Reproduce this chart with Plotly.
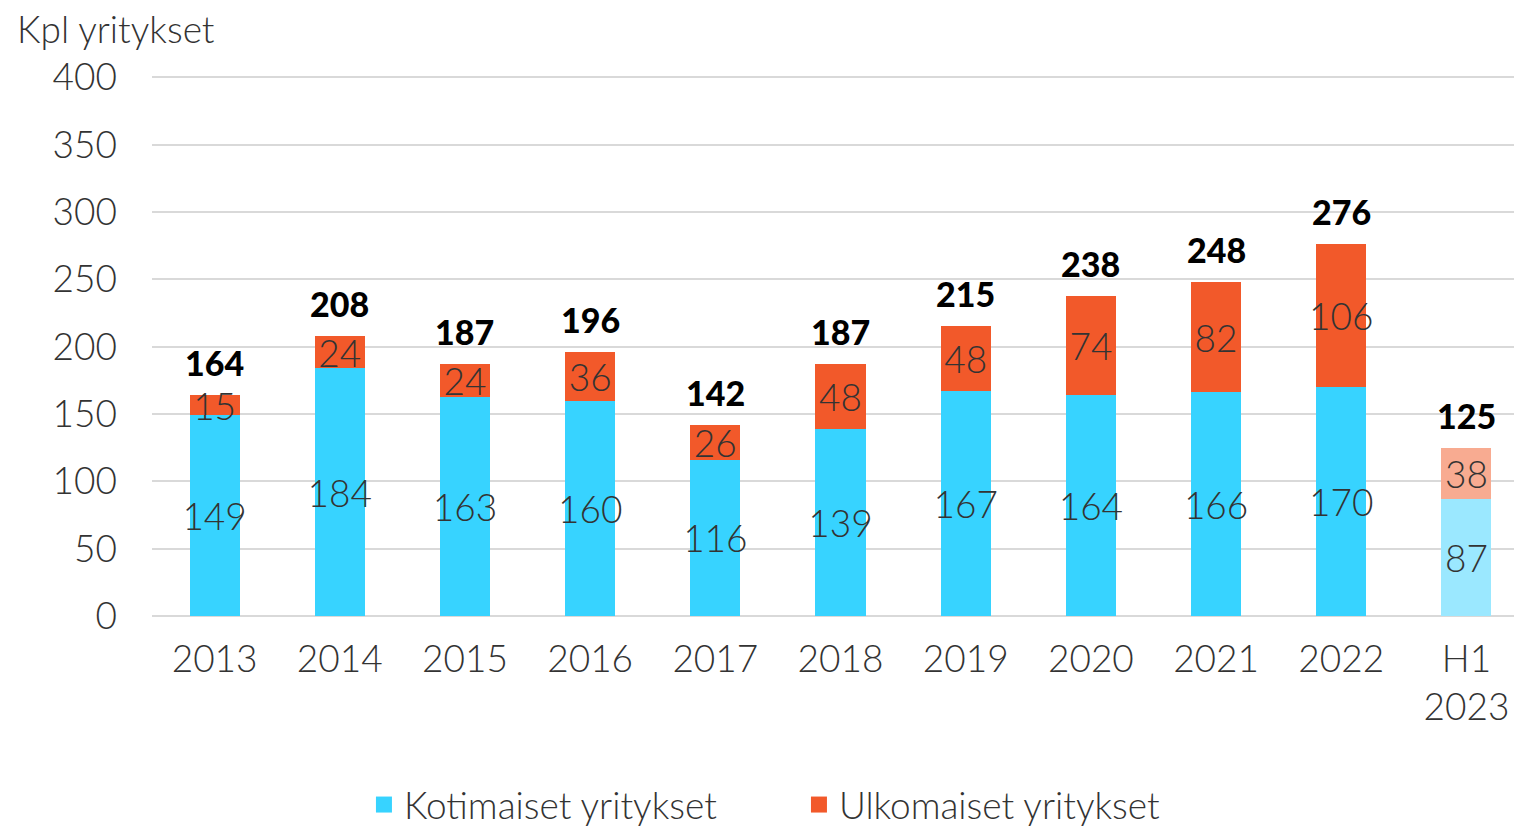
import plotly.graph_objects as go

categories = ["2013", "2014", "2015", "2016", "2017", "2018", "2019", "2020", "2021", "2022", "H1<br>2023"]
domestic = [149, 184, 163, 160, 116, 139, 167, 164, 166, 170, 87]
foreign = [15, 24, 24, 36, 26, 48, 48, 74, 82, 106, 38]
totals = [164, 208, 187, 196, 142, 187, 215, 238, 248, 276, 125]
tick_vals = [0, 50, 100, 150, 200, 250, 300, 350, 400]

BLUE = "#37D3FF"
ORANGE = "#F2592A"
BLUE_L = "#9BE8FF"
ORANGE_L = "#F8AB91"

dom_colors = [BLUE] * (len(categories) - 1) + [BLUE_L]
for_colors = [ORANGE] * (len(categories) - 1) + [ORANGE_L]

FONT = "Lato"
TXT = "#333333"
FS = 37

fig = go.Figure()
fig.add_trace(go.Bar(
    x=categories, y=domestic, name="Kotimaiset yritykset", showlegend=False,
    marker=dict(color=dom_colors, line=dict(width=0)),
    text=[str(v) for v in domestic], textposition="inside", insidetextanchor="middle",
    textfont=dict(family=FONT, size=FS, color=TXT, weight=300), textangle=0,
    constraintext="none", hoverinfo="skip",
))
fig.add_trace(go.Bar(
    x=categories, y=foreign, name="Ulkomaiset yritykset", showlegend=False,
    marker=dict(color=for_colors, line=dict(width=0)),
    text=[str(v) for v in foreign], textposition="inside", insidetextanchor="middle",
    textfont=dict(family=FONT, size=FS, color=TXT, weight=300), textangle=0,
    constraintext="none", hoverinfo="skip",
))
# legend swatches
fig.add_trace(go.Scatter(
    x=[None], y=[None], mode="markers", name="Kotimaiset yritykset",
    marker=dict(symbol="square", size=20, color=BLUE),
))
fig.add_trace(go.Scatter(
    x=[None], y=[None], mode="markers", name="Ulkomaiset yritykset",
    marker=dict(symbol="square", size=20, color=ORANGE),
))

annotations = [dict(
    text="Kpl yritykset", xref="paper", yref="paper", x=-137 / 1362, y=1,
    xanchor="left", yanchor="middle", yshift=48, showarrow=False,
    font=dict(family=FONT, size=FS, color=TXT, weight=300),
)]
for i, tot in enumerate(totals):
    annotations.append(dict(
        x=i, y=tot, xref="x", yref="y", text=str(tot), showarrow=False,
        xanchor="center", yanchor="bottom", yshift=10,
        font=dict(family=FONT, size=34, color="#000000", weight=900),
    ))

fig.update_layout(
    width=1514, height=826,
    margin=dict(l=152, r=0, t=76, b=210, autoexpand=False),
    paper_bgcolor="white", plot_bgcolor="white",
    barmode="stack", bargap=0.6,
    font=dict(family=FONT, size=FS, color=TXT, weight=300),
    xaxis=dict(
        type="category", showgrid=False, showline=False, zeroline=False,
        tickfont=dict(family=FONT, size=FS, color=TXT, weight=300),
        ticks="", ticklabelstandoff=18, automargin=False,
        categoryorder="array", categoryarray=categories,
        range=[-0.5, len(categories) - 0.62],
    ),
    yaxis=dict(
        range=[0, 401], tickvals=tick_vals, showgrid=True, gridcolor="#D9D9D9", gridwidth=2,
        zeroline=True, zerolinecolor="#D9D9D9", zerolinewidth=2, showline=False,
        tickfont=dict(family=FONT, size=FS, color=TXT, weight=300),
        ticklabelstandoff=34, automargin=False,
    ),
    legend=dict(
        orientation="h", x=0.475, xanchor="center", y=-0.35, yanchor="middle",
        font=dict(family=FONT, size=FS, color=TXT, weight=300),
        itemwidth=30, traceorder="normal", entrywidth=390,
    ),
    annotations=annotations,
    hovermode=False,
)

fig.write_html("out.html", config={"displayModeBar": False},
               post_script="document.body.style.margin='0px';")
